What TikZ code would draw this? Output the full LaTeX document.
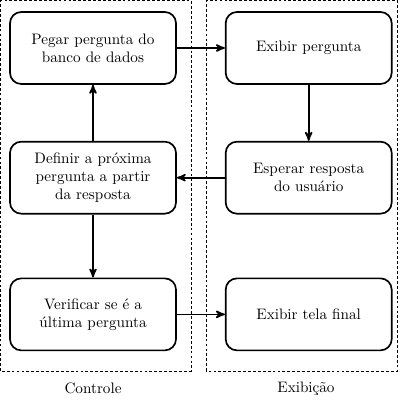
\documentclass[tikz,border=0pt]{standalone}
\usepackage[utf8]{inputenc}
\usepackage{tikz}
\usetikzlibrary{arrows,positioning}

\begin{document}
\begin{tikzpicture}[->,>=stealth',shorten >=0pt,auto,node distance=1.4cm,
    line width=1.2pt,font=\fontsize{10.8}{13}\selectfont,
    bloco/.style={rectangle,draw,rounded corners=8pt,minimum width=4.15cm,minimum height=1.8cm,align=center},
    grupo/.style={draw,dash pattern=on 2pt off 1.5pt,line width=0.6pt,-}]

  \useasboundingbox (0,0) rectangle (10,10);

  \draw[grupo] (0.02,0.725) rectangle (4.775,9.98);
  \draw[grupo] (5.15,0.725) rectangle (9.925,9.98);

  \node[bloco] (pegar) at (2.325,8.8) {Pegar pergunta do\\banco de dados};
  \node[bloco] (definir) [below=of pegar] {Definir a próxima\\pergunta a partir\\da resposta};
  \node[bloco] (verificar) [below=1.575cm of definir] {Verificar se é a\\última pergunta};
  \node[bloco] (exibir) [right=1.2cm of pegar] {Exibir pergunta};
  \node[bloco] (esperar) [below=of exibir] {Esperar resposta\\do usuário};
  \node[bloco] (final) [below=1.575cm of esperar] {Exibir tela final};

  \node (controle) at (2.325,0.3) {Controle};
  \node (exibicao) at (7.65,0.28) {Exibição};

  \path (pegar) edge (exibir)
        (exibir) edge (esperar)
        (esperar) edge (definir)
        (definir) edge (pegar)
        (definir) edge (verificar)
        (verificar) edge (final)
        ;

\end{tikzpicture}
\end{document}
